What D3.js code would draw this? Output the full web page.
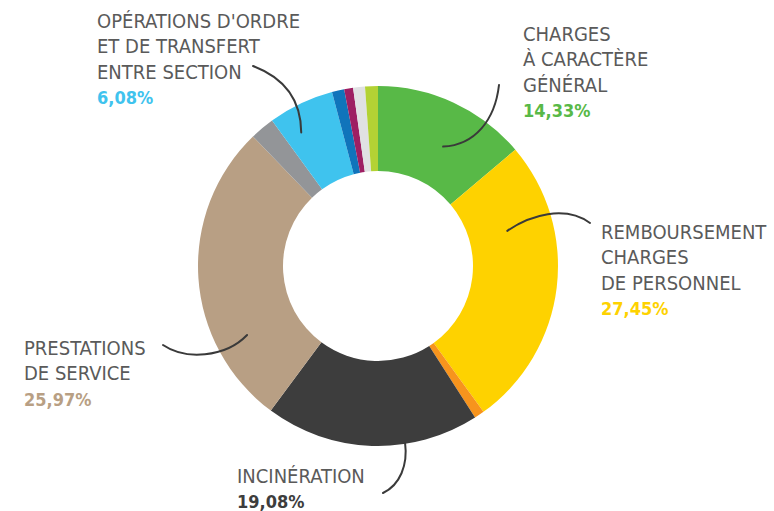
<!DOCTYPE html>
<html>
<head>
<meta charset="utf-8">
<script src="https://cdn.jsdelivr.net/npm/d3@7"></script>
<style>
  body { margin: 0; background: #fff; }
  .lbl { font-family: "DejaVu Sans Condensed", "DejaVu Sans", sans-serif; font-size: 20px; fill: #5a5a5a; }
  .pct { font-family: "DejaVu Sans Condensed", "DejaVu Sans", sans-serif; font-size: 18px; font-weight: bold; }
</style>
</head>
<body>
<div id="chart"></div>
<script>
const categories = [
    "Charges à caractère général", "Remboursement charges de personnel", "Autre 1",
    "Incinération", "Prestations de service", "Autre 2",
    "Opérations d'ordre et de transfert entre section", "Autre 3", "Autre 4", "Autre 5", "Autre 6"
];
const shares = [13.8, 26.2, 0.9, 19.2, 27.6, 2.2, 5.9, 1.1, 0.8, 1.06, 1.15];
const colors = ["#58b947", "#fed200", "#f7941d", "#3d3d3d", "#b89f84", "#939598",
                "#3fc3ee", "#1074bb", "#9e1f63", "#e0e1e3", "#b3d234"];

// labelled slices: text lines and printed percentage
const labelIndex = [6, 0, 1, 4, 3];
const labelLines = [
    ["OPÉRATIONS D'ORDRE", "ET DE TRANSFERT", "ENTRE SECTION"],
    ["CHARGES", "À CARACTÈRE", "GÉNÉRAL"],
    ["REMBOURSEMENT", "CHARGES", "DE PERSONNEL"],
    ["PRESTATIONS", "DE SERVICE"],
    ["INCINÉRATION"]
];
const labelPct = ["6,08%", "14,33%", "27,45%", "25,97%", "19,08%"];

const width = 774, height = 511;
const cx = 378, cy = 266, rOuter = 180, rInner = 95;
const lineH = 25.3;

// label placement and leader geometry (layout only)
const layout = [
    { x: 97,  y: 28,  lead: [253, 66],  ang: -29.9, rad: 154, c1: [285, 78],  c2: [301, 100] },
    { x: 523, y: 41,  lead: [499, 85],  ang: 28.6,  rad: 136, c1: [495, 120], c2: [475, 145] },
    { x: 601, y: 239, lead: [590, 223], ang: 74.8,  rad: 134, c1: [565, 205], c2: [530, 215] },
    { x: 24,  y: 355, lead: [163, 345], ang: 242.2, rad: 148, c1: [185, 360], c2: [225, 358] },
    { x: 237, y: 483, lead: [383, 493], ang: 171.3, rad: 179, c1: [400, 485], c2: [408, 465] }
];

const svg = d3.select("#chart").append("svg")
    .attr("width", width)
    .attr("height", height);

const pie = d3.pie().sort(null).value(d => d);
const arc = d3.arc().innerRadius(rInner).outerRadius(rOuter);

const g = svg.append("g").attr("transform", `translate(${cx},${cy})`);

g.selectAll("path.slice")
    .data(pie(shares))
    .enter()
    .append("path")
    .attr("class", "slice")
    .attr("d", arc)
    .attr("fill", (d, i) => colors[i]);

// leader lines
layout.forEach((L, k) => {
    const p = d3.pointRadial(L.ang * Math.PI / 180, L.rad);
    const end = [cx + p[0], cy + p[1]];
    const path = d3.path();
    path.moveTo(L.lead[0], L.lead[1]);
    path.bezierCurveTo(L.c1[0], L.c1[1], L.c2[0], L.c2[1], end[0], end[1]);
    svg.append("path")
        .attr("d", path.toString())
        .attr("fill", "none")
        .attr("stroke", "#3a3a3a")
        .attr("stroke-width", 2)
        .attr("stroke-linecap", "round");
});

// labels
layout.forEach((L, k) => {
    const t = svg.append("g");
    labelLines[k].forEach((s, j) => {
        t.append("text")
            .attr("class", "lbl")
            .attr("x", L.x)
            .attr("y", L.y + j * lineH)
            .text(s);
    });
    t.append("text")
        .attr("class", "pct")
        .attr("x", L.x)
        .attr("y", L.y + labelLines[k].length * lineH)
        .attr("fill", colors[labelIndex[k]])
        .text(labelPct[k]);
});
</script>
</body>
</html>
